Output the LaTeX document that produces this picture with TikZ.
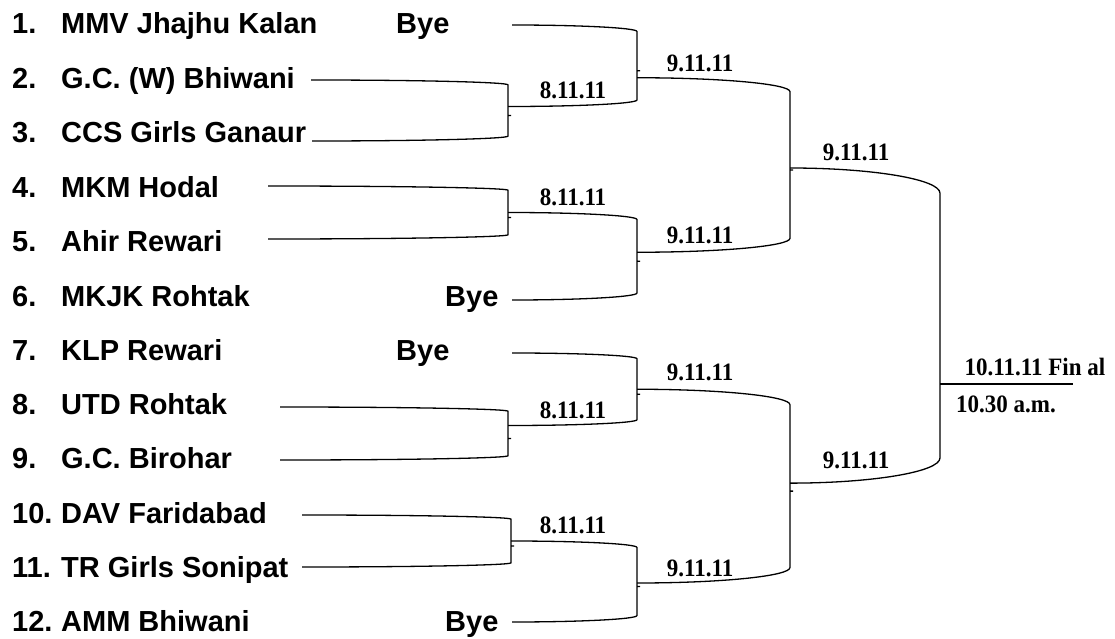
\documentclass[tikz,border=0pt]{standalone}
\usepackage{fontspec}
\setmainfont{Liberation Sans}
\newfontfamily\datefont{Liberation Serif}[FakeStretch=0.92]
\usetikzlibrary{calc, positioning}

\begin{document}
\begin{tikzpicture}[x=1pt, y=1pt,
            team/.style={anchor=base west, inner sep=0pt, font=\fontsize{29}{33}\selectfont\bfseries},
            date/.style={inner sep=0pt, font=\datefont\fontsize{25}{28}\selectfont\bfseries},
            edge/.style={-, line width=1.3pt},
            final/.style={-, line width=2.6pt}
        ]
        \useasboundingbox (0,0) rectangle (1115,-639);

        % Teams (manual layout to match figure)
        \node[team] (t1) at (12,-34) {\makebox[49pt][l]{1.}MMV Jhajhu Kalan};
        \node[team] (t2) at (12,-89) {\makebox[49pt][l]{2.}G.C. (W) Bhiwani};
        \node[team] (t3) at (12,-143) {\makebox[49pt][l]{3.}CCS Girls Ganaur};
        \node[team] (t4) at (12,-197) {\makebox[49pt][l]{4.}MKM Hodal};
        \node[team] (t5) at (12,-251) {\makebox[49pt][l]{5.}Ahir Rewari};
        \node[team] (t6) at (12,-306) {\makebox[49pt][l]{6.}MKJK Rohtak};
        \node[team] (t7) at (12,-360) {\makebox[49pt][l]{7.}KLP Rewari};
        \node[team] (t8) at (12,-414) {\makebox[49pt][l]{8.}UTD Rohtak};
        \node[team] (t9) at (12,-468) {\makebox[49pt][l]{9.}G.C. Birohar};
        \node[team] (t10) at (12,-523) {\makebox[49pt][l]{10.}DAV Faridabad};
        \node[team] (t11) at (12,-577) {\makebox[49pt][l]{11.}TR Girls Sonipat};
        \node[team] (t12) at (12,-631) {\makebox[49pt][l]{12.}AMM Bhiwani};

        \node[team] (b1) at (396,-34) {Bye};
        \node[team] (b6) at (445,-306) {Bye};
        \node[team] (b7) at (396,-360) {Bye};
        \node[team] (b12) at (445,-631) {Bye};

        % Line ends
        \coordinate (a1) at (512,-25);
        \coordinate (a2) at (311,-80);
        \coordinate (a3) at (312,-141);
        \coordinate (a4) at (268,-186);
        \coordinate (a5) at (268,-239);
        \coordinate (a6) at (512,-300);
        \coordinate (a7) at (512,-353);
        \coordinate (a8) at (280,-407);
        \coordinate (a9) at (280,-460);
        \coordinate (a10) at (302,-515);
        \coordinate (a11) at (302,-567);
        \coordinate (a12) at (512,-622);
        \coordinate (finend) at (1073,0);

        % Brackets
        \foreach \ta/\tb/\xc/\dd/\tk/\nm in {a2/a3/508/-4/3/m1, a4/a5/508/0/3/m2, a8/a9/508/-8/3/m3, a10/a11/511/0/3/m4,
                a1/m1/637/12/3/n1, m2/a6/637/-4/3/n2, a7/m3/637/0/3/n3, m4/a12/637/1.5/3/n4,
                n1/n2/790/3/3/r1, n3/n4/790/-3/3/r2, r1/r2/940/58.5/0/fin}
            \draw[edge] let \p1=(\ta), \p2=(\tb), \n1={0.08*(\y1-\y2)}, \n2={\xc pt-\x1}, \n3={\xc pt-\x2} in
                (\ta) .. controls (\x1+0.552*\n2, \y1) and (\xc pt, \y1-0.448*\n1) .. (\xc pt, \y1-\n1)
                -- (\xc pt, \y2+\n1) .. controls (\xc pt, \y2+0.448*\n1) and (\x2+0.552*\n3, \y2) .. (\tb)
                (\xc pt, {(\y1+\y2)/2-5}) -- ++(\tk, 0)
                (\xc pt, {(\y1+\y2)/2-\dd}) coordinate (\nm);

        \draw[final] (fin) -- (fin -| finend);

        % Dates
        \node[date] (d1) at (573,-90) {8.11.11};
        \node[date] (d2) at (573,-197) {8.11.11};
        \node[date] (d3) at (573,-410) {8.11.11};
        \node[date] (d4) at (573,-525) {8.11.11};
        \node[date] (e1) at (700,-63) {9.11.11};
        \node[date] (e2) at (700,-235) {9.11.11};
        \node[date] (e3) at (700,-372) {9.11.11};
        \node[date] (e4) at (700,-568) {9.11.11};
        \node[date] (s1) at (856,-152) {9.11.11};
        \node[date] (s2) at (856,-460) {9.11.11};
        \node[date] (fa) at (1035,-367) {10.11.11 Fin al};
        \node[date] (fb) at (1006,-404) {10.30 a.m.};

    \end{tikzpicture}
\end{document}
